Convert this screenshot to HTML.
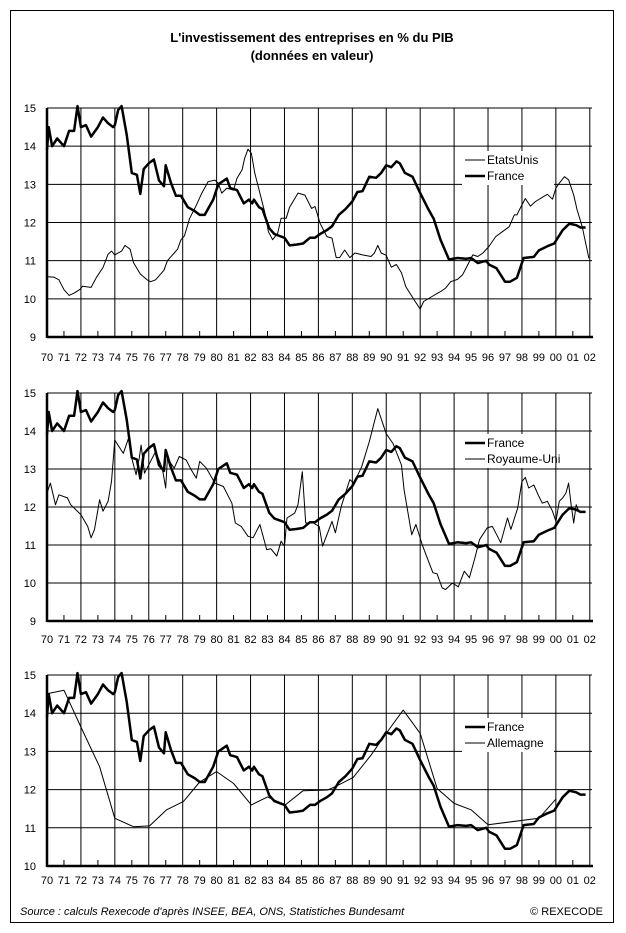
<!DOCTYPE html>
<html><head><meta charset="utf-8"><style>
html,body{margin:0;padding:0;background:#fff;}
svg{display:block;font-family:"Liberation Sans",Arial,sans-serif;}
</style></head><body>
<svg id="chart" width="626" height="933" viewBox="0 0 626 933" xmlns="http://www.w3.org/2000/svg">
<rect x="10.5" y="10.5" width="603" height="912" fill="#fff" stroke="#000" stroke-width="1"/>
<text x="312" y="42" text-anchor="middle" font-size="13" font-weight="bold">L'investissement des entreprises en % du PIB</text>
<text x="312" y="60" text-anchor="middle" font-size="13" font-weight="bold">(données en valeur)</text>
<text x="20" y="915" font-size="11" font-style="italic">Source : calculs Rexecode d'après INSEE, BEA, ONS, Statistiches Bundesamt</text>
<text x="603" y="915" text-anchor="end" font-size="11">© REXECODE</text>
</svg>
<script>
const frYears=[1970.0,1970.1,1970.3,1970.6,1971.0,1971.3,1971.6,1971.8,1972.0,1972.3,1972.6,1973.0,1973.3,1973.6,1973.9,1974.0,1974.2,1974.4,1974.7,1975.0,1975.3,1975.5,1975.7,1976.0,1976.3,1976.6,1976.9,1977.0,1977.3,1977.6,1977.9,1978.3,1978.7,1979.0,1979.3,1979.8,1980.1,1980.6,1980.8,1981.2,1981.6,1981.9,1982.1,1982.2,1982.5,1982.7,1983.1,1983.4,1984.0,1984.3,1984.7,1985.1,1985.5,1985.8,1986.1,1986.5,1986.8,1987.2,1987.6,1988.0,1988.3,1988.6,1989.0,1989.4,1989.7,1990.0,1990.3,1990.6,1990.8,1991.1,1991.55,1992.0,1992.5,1992.8,1993.2,1993.7,1994.2,1994.7,1995.0,1995.4,1995.9,1996.05,1996.5,1997.0,1997.3,1997.7,1998.1,1998.7,1999.0,1999.5,1999.9,2000.4,2000.8,2001.2,2001.45,2001.75];
const frVals=[13.9,14.5,14.0,14.2,14.0,14.4,14.4,15.05,14.5,14.55,14.25,14.5,14.75,14.6,14.5,14.55,14.95,15.05,14.3,13.3,13.25,12.75,13.4,13.55,13.65,13.1,12.95,13.5,13.05,12.7,12.7,12.4,12.3,12.2,12.2,12.6,13.0,13.15,12.9,12.85,12.5,12.6,12.5,12.6,12.4,12.35,11.85,11.7,11.6,11.4,11.42,11.45,11.6,11.6,11.7,11.8,11.9,12.2,12.35,12.55,12.8,12.82,13.2,13.17,13.3,13.5,13.45,13.6,13.55,13.3,13.2,12.77,12.33,12.1,11.55,11.03,11.07,11.05,11.07,10.94,11.0,10.9,10.8,10.45,10.45,10.55,11.07,11.1,11.27,11.38,11.45,11.8,11.97,11.93,11.87,11.87];
const usYears=[1970.0,1970.4,1970.7,1971.0,1971.3,1971.6,1971.95,1972.1,1972.6,1972.9,1973.3,1973.6,1973.8,1974.0,1974.4,1974.6,1974.9,1975.1,1975.5,1975.9,1976.1,1976.4,1976.9,1977.1,1977.5,1977.7,1977.9,1978.1,1978.4,1978.8,1979.1,1979.5,1979.9,1980.1,1980.3,1980.6,1981.0,1981.2,1981.5,1981.65,1981.85,1982.05,1982.25,1982.55,1982.85,1983.05,1983.3,1983.6,1983.8,1984.1,1984.3,1984.8,1985.2,1985.6,1985.8,1986.1,1986.5,1986.8,1987.05,1987.25,1987.55,1987.85,1988.15,1988.6,1989.1,1989.3,1989.5,1989.7,1990.0,1990.3,1990.6,1990.9,1991.15,1991.65,1992.0,1992.2,1992.7,1993.2,1993.5,1993.8,1994.2,1994.5,1994.8,1995.1,1995.4,1995.7,1996.05,1996.45,1996.85,1997.25,1997.55,1997.7,1997.95,1998.2,1998.5,1998.8,1999.2,1999.5,1999.8,2000.0,2000.2,2000.5,2000.75,2001.05,2001.25,2001.55,2001.95];
const usVals=[10.58,10.57,10.5,10.24,10.09,10.15,10.25,10.33,10.3,10.55,10.82,11.17,11.25,11.15,11.25,11.4,11.3,10.95,10.65,10.5,10.45,10.5,10.75,11.0,11.2,11.3,11.55,11.65,12.1,12.45,12.75,13.07,13.11,13.03,12.77,12.9,12.85,13.16,13.38,13.68,13.92,13.81,13.29,12.77,12.24,11.76,11.55,11.72,12.11,12.11,12.4,12.77,12.72,12.37,12.42,11.98,11.63,11.59,11.08,11.08,11.28,11.08,11.2,11.15,11.11,11.2,11.4,11.2,11.14,10.83,10.9,10.68,10.32,9.97,9.73,9.93,10.06,10.19,10.28,10.45,10.51,10.63,10.89,11.15,11.11,11.2,11.37,11.63,11.76,11.89,12.2,12.2,12.42,12.63,12.43,12.55,12.66,12.74,12.61,12.9,13.03,13.2,13.12,12.72,12.33,11.89,11.06];
const ukYears=[1970.0,1970.2,1970.5,1970.7,1971.2,1971.4,1972.0,1972.4,1972.6,1972.8,1973.1,1973.3,1973.6,1973.8,1974.0,1974.5,1974.8,1975.0,1975.25,1975.45,1975.55,1975.75,1976.05,1976.4,1976.8,1977.0,1977.1,1977.5,1977.8,1978.2,1978.5,1978.8,1979.0,1979.4,1979.9,1980.4,1980.9,1981.1,1981.45,1981.85,1982.15,1982.55,1982.95,1983.2,1983.55,1983.8,1984.0,1984.15,1984.6,1984.8,1985.05,1985.25,1985.7,1986.05,1986.25,1986.55,1986.8,1987.0,1987.35,1987.85,1988.1,1988.55,1989.0,1989.5,1990.0,1990.4,1990.9,1991.05,1991.5,1991.75,1992.15,1992.45,1992.75,1993.0,1993.3,1993.5,1993.9,1994.25,1994.6,1994.9,1995.2,1995.5,1995.95,1996.25,1996.45,1996.75,1997.15,1997.35,1997.75,1998.0,1998.2,1998.4,1998.7,1999.0,1999.2,1999.5,1999.8,2000.0,2000.2,2000.4,2000.6,2000.75,2000.9,2001.05,2001.2,2001.35,2001.45];
const ukVals=[12.37,12.63,12.06,12.32,12.24,12.06,11.8,11.49,11.19,11.41,12.19,11.89,12.15,12.67,13.76,13.41,13.8,13.28,12.85,13.31,13.63,12.89,13.15,13.46,13.02,12.5,13.28,13.02,13.33,13.24,12.98,12.76,13.2,13.02,12.63,12.54,12.1,11.58,11.49,11.23,11.19,11.54,10.88,10.9,10.71,11.1,10.97,11.71,11.84,12.06,12.93,11.58,11.58,11.49,10.97,11.32,11.62,11.32,12.02,12.72,12.63,13.06,13.72,14.59,13.93,13.67,13.1,12.45,11.27,11.54,10.97,10.62,10.27,10.24,9.87,9.83,10.0,9.9,10.31,10.14,10.62,11.14,11.45,11.49,11.32,11.06,11.71,11.41,11.97,12.67,12.78,12.5,12.58,12.28,12.1,12.15,11.89,11.62,12.15,12.24,12.37,12.63,12.06,11.58,12.06,11.89,11.84];
const deYears=[1970.0,1971.0,1972.0,1973.1,1974.0,1975.1,1976.05,1977.05,1978.05,1979.0,1980.0,1981.0,1982.05,1983.0,1984.05,1985.1,1986.55,1987.05,1988.05,1989.1,1990.0,1991.0,1992.0,1993.0,1994.0,1995.0,1996.0,1999.0,2000.0];
const deVals=[14.51,14.6,13.64,12.6,11.25,11.03,11.05,11.47,11.69,12.2,12.47,12.16,11.6,11.81,11.6,11.97,11.99,12.09,12.32,12.9,13.47,14.08,13.47,12.03,11.64,11.47,11.08,11.25,11.75];
const yTicks1=[9,10,11,12,13,14,15];
const yTicks3=[10,11,12,13,14,15];
const xLabels=['70','71','72','73','74','75','76','77','78','79','80','81','82','83','84','85','86','87','88','89','90','91','92','93','94','95','96','97','98','99','00','01','02'];

const svg=document.getElementById('chart');
const NS='http://www.w3.org/2000/svg';
const X0=47,X1=592,YR0=1970,YR1=2002.13;
function xs(yr){return X0+(yr-YR0)*(X1-X0)/(YR1-YR0);}
function mk(tag,attrs){const e=document.createElementNS(NS,tag);for(const k in attrs)e.setAttribute(k,attrs[k]);return e;}

function panel(id,top,bot,vmin,vmax,ticks,series,legend,labelY,legTop){
  const g=mk('g',{});
  
  
  svg.appendChild(g);
  const ys=v=>bot-(v-vmin)*(bot-top)/(vmax-vmin);
  // horizontal grid + y labels
  ticks.forEach(t=>{
    const l=mk('line',{x1:X0,x2:X1,y1:ys(t),y2:ys(t),stroke:'#000','stroke-width':1});
    
    
    g.appendChild(l);
    const tx=mk('text',{x:36,y:ys(t)+4,'text-anchor':'end','font-size':11});
    
    
    tx.textContent=t;g.appendChild(tx);
  });
  // vertical grid / ticks and x labels
  xLabels.forEach((lab,i)=>{
    const yr=YR0+i;const x=xs(yr);
    if(i%2===0){
      const l=mk('line',{x1:x,x2:x,y1:top,y2:bot,stroke:'#000','stroke-width':1});
      
      
      g.appendChild(l);
    } else {
      const l=mk('line',{x1:x,x2:x,y1:bot-6,y2:bot,stroke:'#000','stroke-width':1});
      
      
      g.appendChild(l);
    }
    const tx=mk('text',{x:x,y:labelY,'text-anchor':'middle','font-size':11});
    
    
    tx.textContent=lab;g.appendChild(tx);
  });
  // axes
  const ax=mk('line',{x1:X0,x2:X0,y1:top,y2:bot+1,stroke:'#000','stroke-width':2.5});
  
  
  g.appendChild(ax);
  const bx=mk('line',{x1:X0,x2:X1+1,y1:bot,y2:bot,stroke:'#000','stroke-width':2.5});
  
  
  g.appendChild(bx);
  // series
  series.forEach(s=>{
    const pts=s.yrs.map((yr,i)=>xs(yr).toFixed(1)+','+ys(s.vals[i]).toFixed(1)).join(' ');
    const p=mk('polyline',{points:pts,fill:'none',stroke:'#000','stroke-width':s.w,'stroke-linejoin':'round'});
    
    
    g.appendChild(p);
  });
  // legend
  const lg=mk('g',{});
  
  
  g.appendChild(lg);
  lg.appendChild(mk('rect',{x:462,y:legTop,width:92,height:34,fill:'#fff'}));
  legend.forEach((e,i)=>{
    const yy=legTop+9+i*16;
    const l=mk('line',{x1:465,x2:485,y1:yy,y2:yy,stroke:'#000','stroke-width':e.w});
    
    
    lg.appendChild(l);
    const t=mk('text',{x:487,y:yy+4,'font-size':12});
    
    
    t.textContent=e.label;lg.appendChild(t);
  });
}
const FR={yrs:frYears,vals:frVals,w:2.5,name:'france-line'};
panel('panel-etats-unis',108,337,9,15,yTicks1,[{yrs:usYears,vals:usVals,w:1,name:'etats-unis-line'},FR],[{label:'EtatsUnis',w:1},{label:'France',w:2.5}],361,151);
panel('panel-royaume-uni',393,621,9,15,yTicks1,[{yrs:ukYears,vals:ukVals,w:1,name:'royaume-uni-line'},FR],[{label:'France',w:2.5},{label:'Royaume-Uni',w:1}],643,434);
panel('panel-allemagne',675,866,10,15,yTicks3,[{yrs:deYears,vals:deVals,w:1,name:'allemagne-line'},FR],[{label:'France',w:2.5},{label:'Allemagne',w:1}],884,718);
</script>
</body></html>
